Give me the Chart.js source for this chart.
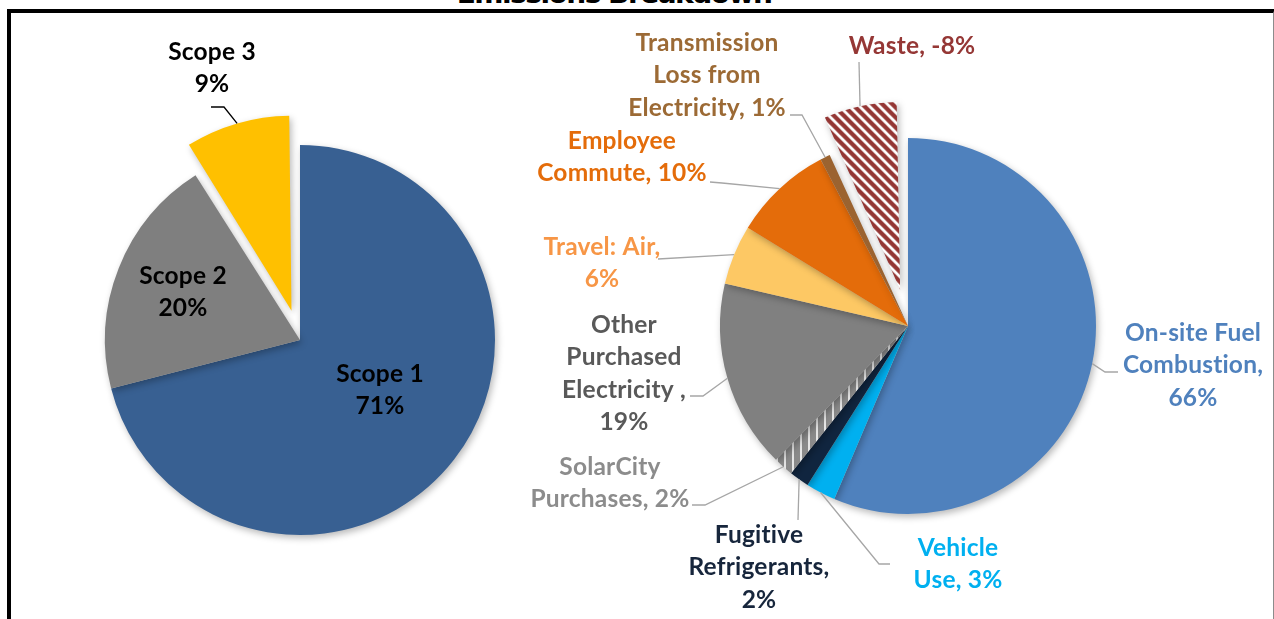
<!DOCTYPE html>
<html>
<head>
<meta charset="utf-8">
<script src="https://cdn.jsdelivr.net/npm/chart.js@4/dist/chart.umd.min.js"></script>
<style>
  html, body { margin: 0; padding: 0; background: #fff; overflow: hidden; }
  #wrap { position: relative; width: 1274px; height: 619px; }
  #frame { position: absolute; left: 7px; top: 9px; width: 1262px; height: 640px;
           border-top: 4px solid #000; border-left: 4px solid #000; border-right: 2px solid #8c8c8c; }
  #title { position: absolute; left: 0; width: 1228px; top: -23px; text-align: center;
           font: bold 28px "DejaVu Sans", sans-serif; color: #000; letter-spacing: -1.5px; }
  canvas { position: absolute; left: 0; top: 0; }
</style>
</head>
<body>
<div id="wrap">
  <div id="frame"></div>
  <div id="title">Emissions Breakdown</div>
  <canvas id="scopes" width="1274" height="619"></canvas>
  <canvas id="sources" width="1274" height="619"></canvas>
</div>
<script>
// left pie: scopes
const scopeNames = ["Scope 1", "Scope 2", "Scope 3"];
const scopeValues = [71, 20, 9];

// right pie: sources (waste is negative, drawn by its size)
const sourceNames = ["On-site Fuel Combustion", "Vehicle Use", "Fugitive Refrigerants", "SolarCity Purchases",
                     "Other Purchased Electricity ", "Travel: Air", "Employee Commute",
                     "Transmission Loss from Electricity", "Waste"];
const sourceValues = [66, 3, 2, 2, 19, 6, 10, 1, -8];

// patterns for the hatched slices
function makePattern(draw, size) {
    const c = document.createElement("canvas");
    c.width = size; c.height = size;
    draw(c.getContext("2d"), size);
    return document.getElementById("sources").getContext("2d").createPattern(c, "repeat");
}
const solarFill = makePattern((g, s) => {
    g.fillStyle = "#8a8a8a"; g.fillRect(0, 0, s, s);
    g.fillStyle = "#e6e6e6"; g.fillRect(0, 0, 2, s);
}, 8);
const wasteFill = makePattern((g, s) => {
    g.fillStyle = "#fff"; g.fillRect(0, 0, s, s);
    g.strokeStyle = "#943634"; g.lineWidth = 4.3;
    for (let k = -1; k <= 1; k++) {
        g.beginPath(); g.moveTo(k * s - 2, -2); g.lineTo(k * s + s + 2, s + 2); g.stroke();
    }
}, 10);

const scopeColors = ["#386092", "#7f7f7f", "#ffc000"];
const sourceColors = ["#4f81bd", "#00b0f0", "#10253f", solarFill, "#808080", "#fdc864", "#e46c0a", "#9b6330", wasteFill];

// label layout: words per line, centre of first line, leader elbow points
const scopeLabels = [
    { lines: [2, 1], x: 380, y: 374, color: "#000" },
    { lines: [2, 1], x: 183, y: 276, color: "#000" },
    { lines: [2, 1], x: 212, y: 52, color: "#000", leader: [[211, 107], [224, 107]], leaderColor: "#000" }
];
const sourceLabels = [
    { lines: [2, 1, 1], x: 1193, y: 333, color: "#4f81bd", leader: [[1118, 372], [1105, 372]] },
    { lines: [1, 2], x: 958, y: 548, color: "#00b0f0", leader: [[890, 564], [879, 564]] },
    { lines: [1, 1, 1], x: 759, y: 535, color: "#17263c", leader: [[798, 520]] },
    { lines: [1, 2], x: 610, y: 467, color: "#8c8c8c", leader: [[692, 505], [705, 505]] },
    { lines: [1, 1, 2, 1], x: 624, y: 325, color: "#595959", leader: [[690, 396], [703, 396]] },
    { lines: [2, 1], x: 602, y: 247, color: "#f79646", leader: [[658, 259]] },
    { lines: [1, 2], x: 622, y: 141, color: "#e46c0a", leader: [[710, 182], [722, 183]] },
    { lines: [1, 2, 2], x: 707, y: 43, color: "#9c6a35", leader: [[790, 115], [802, 115]] },
    { lines: [2], x: 912, y: 46, color: "#953735", leader: [[859, 62]] }
];

function splitLines(text, counts) {
    const words = text.split(" ");
    const out = [];
    let i = 0;
    counts.forEach(n => { out.push(words.slice(i, i + n).join(" ")); i += n; });
    return out;
}

// soft shadow under the slices, like the office chart
const shadowPlugin = {
    id: "pieShadow",
    beforeDatasetsDraw(chart) {
        const meta = chart.getDatasetMeta(0);
        const ctrl = meta.controller;
        // keep exploded slices at the same radius as the rest
        meta.data.forEach(arc => {
            const off = arc.options.offset || 0;
            if (!off) return;
            const circ = arc.endAngle - arc.startAngle;
            const fix = 1 - Math.sin(Math.min(Math.PI, circ));
            arc.outerRadius = ctrl.outerRadius - off / 4 * fix;
        });
        const ctx = chart.ctx;
        ctx.save();
        ctx.shadowColor = "rgba(0,0,0,0.28)";
        ctx.shadowBlur = 7;
        ctx.shadowOffsetX = 2;
        ctx.shadowOffsetY = 3;
    },
    afterDatasetsDraw(chart) {
        chart.ctx.restore();
    }
};

const calloutPlugin = {
    id: "callouts",
    afterDraw(chart, args, opts) {
        const ctx = chart.ctx;
        const meta = chart.getDatasetMeta(0);
        const ctrl = meta.controller;
        ctx.save();
        opts.items.forEach((item, i) => {
            const arc = meta.data[i];
            if (item.leader) {
                const mid = (arc.startAngle + arc.endAngle) / 2;
                const off = (arc.options.offset || 0) / 4;
                const ex = arc.x + Math.cos(mid) * (ctrl.outerRadius + off);
                const ey = arc.y + Math.sin(mid) * (ctrl.outerRadius + off);
                ctx.beginPath();
                ctx.strokeStyle = item.leaderColor || "#a6a6a6";
                ctx.lineWidth = 1.3;
                ctx.moveTo(item.leader[0][0], item.leader[0][1]);
                item.leader.slice(1).forEach(p => ctx.lineTo(p[0], p[1]));
                ctx.lineTo(ex, ey);
                ctx.stroke();
            }
            const lines = splitLines(opts.text[i], item.lines);
            ctx.fillStyle = item.color;
            ctx.font = "bold 24.5px Lato";
            ctx.letterSpacing = "0.2px"; // no "ti" ligature
            ctx.textAlign = "center";
            ctx.textBaseline = "middle";
            lines.forEach((t, k) => ctx.fillText(t, item.x, item.y + k * 32.4));
        });
        ctx.restore();
    }
};

function baseOptions(padding, items, text) {
    return {
        responsive: false,
        animation: false,
        events: [],
        layout: { padding: padding },
        plugins: {
            legend: { display: false },
            tooltip: { enabled: false },
            callouts: { items: items, text: text }
        }
    };
}

new Chart(document.getElementById("scopes"), {
    type: "pie",
    data: {
        labels: scopeNames,
        datasets: [{
            data: scopeValues,
            backgroundColor: scopeColors,
            borderWidth: 0,
            radius: 195,
            offset: [0, 0, 122]
        }]
    },
    options: baseOptions({ left: 70, right: 744, top: 110, bottom: 49 }, scopeLabels,
        scopeNames.map((n, i) => n + " " + scopeValues[i] + "%")),
    plugins: [shadowPlugin, calloutPlugin]
});

new Chart(document.getElementById("sources"), {
    type: "pie",
    data: {
        labels: sourceNames,
        datasets: [{
            data: sourceValues.map(v => Math.abs(v)),
            backgroundColor: sourceColors,
            borderWidth: 0,
            radius: 188,
            offset: [0, 0, 0, 0, 0, 0, 0, 0, 148]
        }]
    },
    options: baseOptions({ left: 658, right: 116, top: 76, bottom: 43 }, sourceLabels,
        sourceNames.map((n, i) => n + ", " + sourceValues[i] + "%")),
    plugins: [shadowPlugin, calloutPlugin]
});
</script>
</body>
</html>
